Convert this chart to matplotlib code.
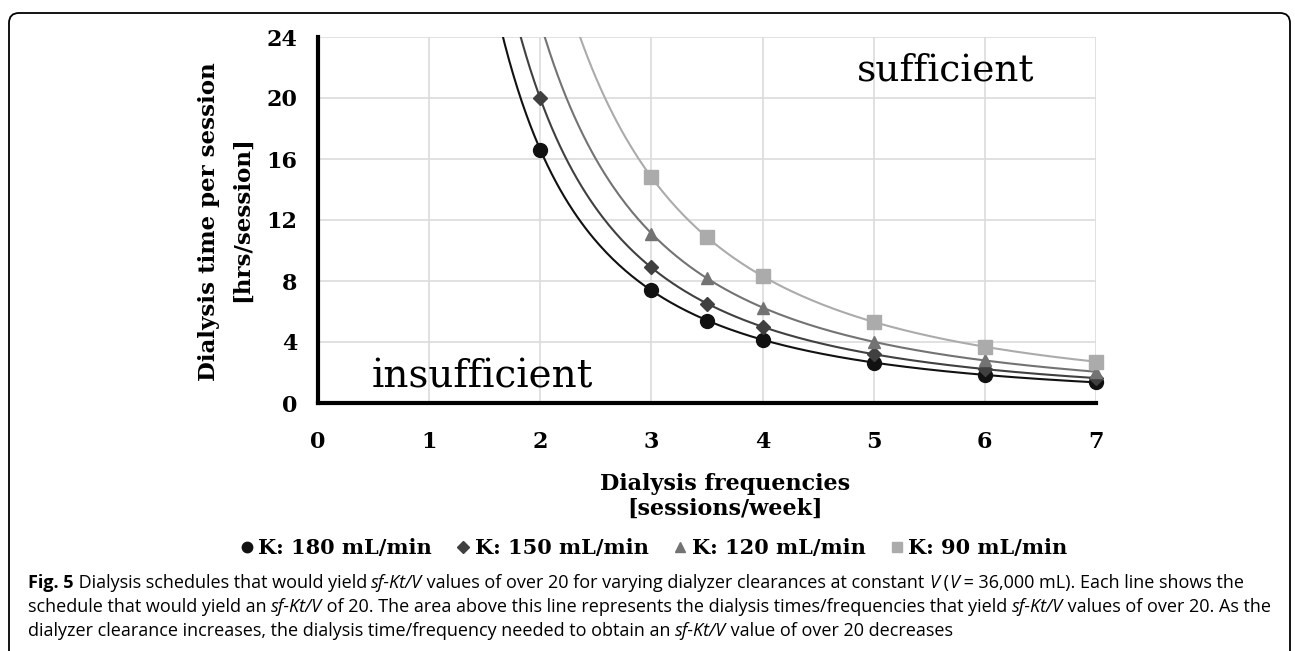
import numpy as np
import matplotlib
matplotlib.use("Agg")
import matplotlib.pyplot as plt
from matplotlib.patches import FancyBboxPatch
from matplotlib.lines import Line2D
from matplotlib.transforms import IdentityTransform

# values (hrs/session)
freq = [2, 3, 3.5, 4, 5, 6, 7]
k180 = [16.6, 7.4, 5.4, 4.15, 2.65, 1.85, 1.35]
k150 = [20.0, 8.9, 6.5, 5.0, 3.2, 2.2, 1.65]
k120 = [25.0, 11.1, 8.2, 6.25, 4.0, 2.8, 2.05]
k90 = [33.3, 14.8, 10.9, 8.35, 5.3, 3.7, 2.7]

labels = ["K: 180 mL/min", "K: 150 mL/min", "K: 120 mL/min", "K: 90 mL/min"]
colors = ["#111111", "#404040", "#737373", "#ababab"]
markers = ["o", "D", "^", "s"]
msizes = [10, 7.5, 9, 10]

serif = "DejaVu Serif"

fig = plt.figure(figsize=(12.95, 6.51), dpi=100)
W, H = 1295, 651
ax = fig.add_axes([318 / W, 1 - 403 / H, (1096 - 318) / W, (403 - 37) / H])

series = [k180, k150, k120, k90]
x = np.array(freq)
for ys, c, m, ms, lab in zip(series, colors, markers, msizes, labels):
    ys = np.array(ys)
    # power trendline fitted to the points
    b, a = np.polyfit(np.log(x), np.log(ys), 1)
    xx = np.linspace(1.3, 7, 300)
    ax.plot(xx, np.exp(a) * xx ** b, color=c, lw=1.5, zorder=3)
    keep = ys <= 24
    ax.plot(x[keep], ys[keep], ls="none", marker=m, ms=ms, color=c,
            zorder=4, clip_on=False)

ax.set_xlim(0, 7)
ax.set_ylim(0, 24)
ax.set_xticks(range(0, 8))
ax.set_yticks(range(0, 25, 4))
ax.grid(True, color="#dcdcdc", lw=1.2)
ax.set_axisbelow(True)
for s in ["top", "right"]:
    ax.spines[s].set_visible(False)
for s in ["left", "bottom"]:
    ax.spines[s].set_linewidth(3)
    ax.spines[s].set_color("black")
ax.tick_params(length=0, labelsize=16)
ax.tick_params(axis="x", pad=20)
ax.tick_params(axis="y", pad=15)
for t in ax.get_xticklabels() + ax.get_yticklabels():
    t.set_fontfamily(serif)
    t.set_fontweight("bold")

ax.text(0.48, 1.7, "insufficient", fontsize=28, family=serif, va="center")
ax.text(4.85, 21.8, "sufficient", fontsize=27, family=serif, va="center")

fig.text(209 / W, 1 - 222 / H, "Dialysis time per session", rotation=90,
         ha="center", va="center", fontsize=16.5, family=serif, weight="bold")
fig.text(242 / W, 1 - 219 / H, "[hrs/session]", rotation=90,
         ha="center", va="center", fontsize=16.5, family=serif, weight="bold")
fig.text(725 / W, 1 - 484 / H, "Dialysis frequencies", ha="center",
         va="center", fontsize=16, family=serif, weight="bold")
fig.text(725 / W, 1 - 509 / H, "[sessions/week]", ha="center",
         va="center", fontsize=16, family=serif, weight="bold")

handles = [Line2D([], [], ls="none", marker=m, color=c, ms=ms * 0.75)
           for m, c, ms in zip(markers, colors, msizes)]
fig.legend(handles, labels, loc="center", bbox_to_anchor=(652 / W, 1 - 548 / H),
           ncol=4, frameon=False, handletextpad=0.05, columnspacing=1.0,
           handlelength=1.0, prop={"family": serif, "weight": "bold", "size": 15})

# caption
cap_font = "Open Sans"
cap_size = 13
lines = [
    [("Fig. 5", "bold"), (" Dialysis schedules that would yield ", "normal"),
     ("sf-Kt/V", "italic"),
     (" values of over 20 for varying dialyzer clearances at constant ", "normal"),
     ("V", "italic"), (" (", "normal"), ("V", "italic"),
     (" = 36,000 mL). Each line shows the", "normal")],
    [("schedule that would yield an ", "normal"), ("sf-Kt/V", "italic"),
     (" of 20. The area above this line represents the dialysis times/frequencies that yield ", "normal"),
     ("sf-Kt/V", "italic"), (" values of over 20. As the", "normal")],
    [("dialyzer clearance increases, the dialysis time/frequency needed to obtain an ", "normal"),
     ("sf-Kt/V", "italic"), (" value of over 20 decreases", "normal")],
]
line_y = [583, 607, 631]
fig.canvas.draw()
r = fig.canvas.get_renderer()
for runs, yy in zip(lines, line_y):
    xpos = 28
    for txt, sty in runs:
        kw = dict(fontsize=cap_size, family=[cap_font, "DejaVu Sans"], va="center",
                  transform=IdentityTransform())
        if sty == "bold":
            kw["weight"] = "bold"
        if sty == "italic":
            kw["style"] = "italic"
        t = fig.text(xpos, H - yy, txt, **kw)
        xpos = t.get_window_extent(renderer=r).x1

border = FancyBboxPatch((9, -60), 1290 - 9, H - 13 + 60,
                        boxstyle="round,pad=0,rounding_size=10",
                        transform=IdentityTransform(), fill=False,
                        ec="black", lw=1.3)
fig.add_artist(border)

fig.savefig("out.png", dpi=100)
